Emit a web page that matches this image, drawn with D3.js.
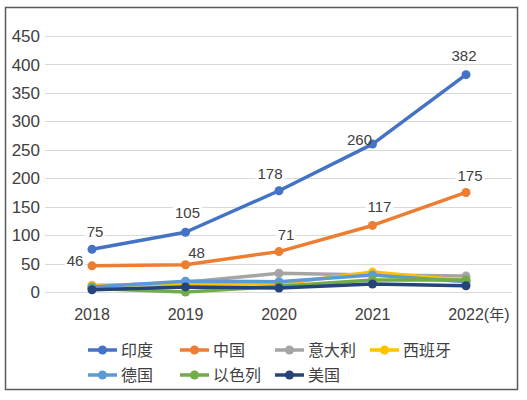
<!DOCTYPE html>
<html>
<head>
<meta charset="utf-8">
<script src="https://cdn.jsdelivr.net/npm/d3@7"></script>
<style>
  body { margin: 0; background: #fff; }
  svg { display: block; }
  text { font-family: "Liberation Sans", Arial, sans-serif; fill: #404040; }
  .cjk { font-family: "Noto Sans CJK SC", sans-serif; }
</style>
</head>
<body>
<svg id="chart" width="527" height="400"></svg>
<script>
// Data
const years = ["2018", "2019", "2020", "2021", "2022"];
const countries = ["印度", "中国", "意大利", "西班牙", "德国", "以色列", "美国"];
const india   = [75, 105, 178, 260, 382];
const china   = [46, 48, 71, 117, 175];
const italy   = [10, 17, 33, 30, 28];
const spain   = [12, 14, 14, 35, 20];
const germany = [9, 19, 18, 30, 18];
const israel  = [6, 0, 10, 21, 21];
const usa     = [4, 9, 7, 14, 11];
const yTicks  = [0, 50, 100, 150, 200, 250, 300, 350, 400, 450];

const seriesValues = [india, china, italy, spain, germany, israel, usa];
const colors = ["#4472C4", "#ED7D31", "#A5A5A5", "#FFC000", "#5B9BD5", "#70AD47", "#264478"];

// label offsets (dx, dy) from point, only for labelled series
const labelOffsets = {
    "印度": [[3, -18], [2, -20], [-9, -17], [-13, -4], [-2, -19]],
    "中国": [[-17, -5], [11, -12], [7, -17], [7, -19], [4, -17]]
};

const svg = d3.select("#chart");

// outer frame
svg.append("rect")
    .attr("x", 5.5).attr("y", 7.5)
    .attr("width", 512).attr("height", 382)
    .attr("fill", "none")
    .attr("stroke", "#595959")
    .attr("stroke-width", 1.5);

const x = d3.scalePoint().domain(years).range([92, 466]);
const y = d3.scaleLinear().domain([0, 450]).range([292, 36]);

// gridlines
svg.append("g")
    .selectAll("line")
    .data(yTicks)
    .join("line")
    .attr("x1", 45).attr("x2", 512)
    .attr("y1", d => Math.round(y(d)) + 0.5)
    .attr("y2", d => Math.round(y(d)) + 0.5)
    .attr("stroke", "#d9d9d9")
    .attr("stroke-width", 1.2);

// y axis labels
svg.append("g")
    .selectAll("text")
    .data(yTicks)
    .join("text")
    .attr("x", 40)
    .attr("y", d => y(d))
    .attr("dy", "0.36em")
    .attr("text-anchor", "end")
    .attr("font-size", 17)
    .text(d => d);

// x axis labels
const xLab = svg.append("g")
    .selectAll("text")
    .data(years)
    .join("text")
    .attr("x", d => x(d))
    .attr("y", 320)
    .attr("text-anchor", "middle")
    .attr("font-size", 16)
    .text(d => d);

// last label gets the unit, keep "2022" centred on its point
xLab.filter((d, i) => i === years.length - 1).each(function(d) {
    const t = d3.select(this);
    const w = this.getComputedTextLength();
    t.attr("text-anchor", "start").attr("x", x(d) - w / 2);
    t.append("tspan").text("(");
    t.append("tspan").attr("class", "cjk").attr("font-size", 15).text("年");
    t.append("tspan").text(")");
});

// label backgrounds go under the lines, text goes over
const labelBg = svg.append("g");
const seriesLayer = svg.append("g");
const labelText = svg.append("g");

// lines + markers
const line = d3.line()
    .x((d, i) => x(years[i]))
    .y(d => y(d));

countries.forEach((c, k) => {
    const vals = seriesValues[k];
    const g = seriesLayer.append("g");
    g.append("path")
        .datum(vals)
        .attr("d", line)
        .attr("fill", "none")
        .attr("stroke", colors[k])
        .attr("stroke-width", 3.5)
        .attr("stroke-linejoin", "round");
    g.selectAll("circle")
        .data(vals)
        .join("circle")
        .attr("cx", (d, i) => x(years[i]))
        .attr("cy", d => y(d))
        .attr("r", 4.5)
        .attr("fill", colors[k]);
});

// data labels
Object.keys(labelOffsets).forEach(c => {
    const vals = seriesValues[countries.indexOf(c)];
    const offs = labelOffsets[c];
    vals.forEach((v, i) => {
        const cx = x(years[i]) + offs[i][0];
        const cy = y(v) + offs[i][1];
        const t = labelText.append("text")
            .attr("x", cx).attr("y", cy)
            .attr("dy", "0.36em")
            .attr("text-anchor", "middle")
            .attr("font-size", 15)
            .text(v);
        const b = t.node().getBBox();
        labelBg.append("rect")
            .attr("x", b.x - 2).attr("y", b.y)
            .attr("width", b.width + 4).attr("height", b.height)
            .attr("fill", "#fff");
    });
});

// legend
const legendPos = [[88, 350], [180, 350], [275, 350], [370, 350], [88, 375], [180, 375], [275, 375]];
const legend = svg.append("g");
countries.forEach((c, k) => {
    const [lx, ly] = legendPos[k];
    const g = legend.append("g").attr("transform", `translate(${lx},${ly})`);
    g.append("line")
        .attr("x1", 0).attr("x2", 29)
        .attr("y1", 0).attr("y2", 0)
        .attr("stroke", colors[k])
        .attr("stroke-width", 3.5);
    g.append("circle")
        .attr("cx", 14.5).attr("cy", 0)
        .attr("r", 4.5)
        .attr("fill", colors[k]);
    g.append("text")
        .attr("class", "cjk")
        .attr("x", 33).attr("y", 0)
        .attr("dy", "0.36em")
        .attr("font-size", 16)
        .text(c);
});
</script>
</body>
</html>
